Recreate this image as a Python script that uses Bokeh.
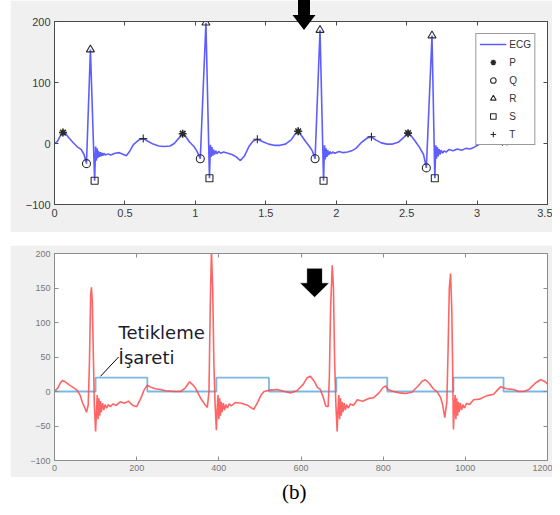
from bokeh.plotting import figure
from bokeh.models import (FixedTicker, LinearAxis, PolyAnnotation, Label, Arrow,
                          Spacer, Div, Legend)
from bokeh.layouts import column, row
from bokeh.embed import file_html
from bokeh.resources import INLINE

# ---------------- data: top panel (ECG with detected P,Q,R,S,T) -------------
ecg_t = [0.00, 0.02, 0.04, 0.06, 0.08, 0.10, 0.13, 0.16, 0.19, 0.21, 0.227, 0.255, 0.285,
         0.292, 0.297, 0.302, 0.307, 0.312, 0.318, 0.324, 0.330, 0.336, 0.343, 0.35, 0.36,
         0.38, 0.40, 0.43, 0.46, 0.49, 0.51, 0.53, 0.56, 0.60, 0.63, 0.66, 0.70, 0.74, 0.78,
         0.82, 0.85, 0.88, 0.91, 0.93, 0.96, 0.99, 1.01, 1.035, 1.075, 1.10,
         1.107, 1.112, 1.118, 1.124, 1.13, 1.137, 1.145, 1.155, 1.165, 1.18, 1.20, 1.23,
         1.26, 1.29, 1.32, 1.35, 1.38, 1.41, 1.44, 1.48, 1.52, 1.56, 1.60, 1.64, 1.68, 1.71,
         1.73, 1.75, 1.78, 1.81, 1.83, 1.85, 1.885, 1.91,
         1.917, 1.922, 1.928, 1.934, 1.94, 1.947, 1.955, 1.965, 1.975, 1.99, 2.02, 2.05,
         2.08, 2.11, 2.14, 2.18, 2.22, 2.25, 2.28, 2.32, 2.36, 2.40, 2.44, 2.48, 2.51, 2.53,
         2.56, 2.59, 2.62, 2.64, 2.68, 2.70,
         2.707, 2.712, 2.718, 2.724, 2.73, 2.737, 2.745, 2.755, 2.765, 2.78, 2.80, 2.83,
         2.86, 2.89, 2.92, 2.95, 2.98, 3.01, 3.04, 3.07, 3.10, 3.14, 3.18, 3.21, 3.24, 3.26]
ecg_v = [0, 3, 12, 18, 16, 10, 2, -5, -10, -18, -33, 154, -61,
         -5, -28, -8, -24, -12, -22, -14, -21, -15, -20, -16, -19,
         -17, -19, -16, -15, -18, -20, -14, -2, 6, 8, 4, -1, -4, -5,
         -4, 0, 8, 16, 12, 2, -5, -12, -25, 198, -57,
         -2, -22, -6, -20, -10, -18, -12, -17, -13, -16, -14, -16,
         -18, -22, -28, -20, -5, 4, 7, 3, -1, -3, -3, -1, 6, 16,
         20, 14, 4, -5, -12, -25, 186, -61,
         -3, -26, -8, -22, -11, -19, -13, -17, -14, -16, -13, -15,
         -14, -12, -8, 2, 9, 11, 6, 1, -1, -1, 2, 10, 17, 13,
         4, -6, -18, -40, 177, -57,
         -3, -25, -6, -21, -9, -18, -11, -16, -12, -14, -10, -12,
         -9, -11, -8, -9, -6, -2, 4, 8, 9, 5, 3, -2, 0, 2]

p_t, p_v = [0.06, 0.91, 1.73, 2.51], [18, 16, 20, 17]
q_t, q_v = [0.227, 1.035, 1.85, 2.64], [-33, -25, -25, -40]
r_t, r_v = [0.255, 1.075, 1.885, 2.68], [154, 198, 186, 177]
s_t, s_v = [0.285, 1.10, 1.91, 2.70], [-61, -57, -61, -57]
t_t, t_v = [0.63, 1.44, 2.25, 3.18], [8, 7, 11, 3]

top_xticks = [0, 0.5, 1, 1.5, 2, 2.5, 3, 3.5]
top_xlabels = ["0", "0.5", "1", "1.5", "2", "2.5", "3", "3.5"]
top_yticks = [-100, 0, 100, 200]

# ---------------- data: bottom panel (ECG samples + trigger signal) ---------
smp = [0, 8, 14, 19, 26, 35, 45, 55, 62, 68, 74, 78, 82, 85, 88, 90, 92, 95, 97, 100,
       102, 104, 106, 108, 110, 112, 114, 117, 120, 123, 127, 131, 136, 142, 150, 160,
       170, 180, 190, 200, 210, 218, 226, 235, 245, 258, 270, 290, 307, 318, 329, 336,
       343, 350, 355, 365, 372, 376, 379, 382, 385, 388, 391, 394,
       396, 398, 400, 402, 404, 406, 408, 411, 414, 417, 421, 425, 430, 440, 455, 470,
       485, 495, 503, 510, 525, 542, 560, 574, 590, 605, 615, 623, 632, 640, 647, 655,
       660, 666, 669, 672, 676, 679, 682, 685, 688,
       690, 692, 694, 696, 698, 700, 702, 705, 708, 711, 715, 720, 728, 737, 750, 765,
       777, 790, 800, 806, 812, 825, 840, 855, 870, 885, 895, 903, 912, 922, 932, 940,
       945, 950, 955, 958, 961, 964, 967, 969, 971,
       973, 975, 977, 979, 981, 983, 985, 988, 991, 994, 998, 1003, 1010, 1020, 1035,
       1053, 1069, 1078, 1086, 1100, 1117, 1130, 1142, 1155, 1170, 1183, 1192, 1200]
ecg2 = [0, 5, 12, 16, 14, 10, 6, 2, -5, -16, -24, -30, -20, 40, 140, 151, 130, 40, -20, -58,
        -30, -5, -40, -10, -35, -14, -30, -17, -27, -19, -24, -19, -22, -18, -20, -15,
        -17, -14, -20, -22, -10, 2, 9, 6, 4, 3, 1, 0, 0, 5, 14, 10,
        5, -3, -9, -18, -23, 0, 120, 205, 150, 40, -20, -56,
        -25, -5, -40, -10, -35, -15, -30, -17, -27, -19, -24, -18, -21, -16, -17, -20,
        -26, -15, -5, 0, 2, 3, 0, -2, 1, 10, 20, 22, 15, 6, 3, -10,
        -21, -22, 20, 120, 183, 150, 40, -20, -58,
        -25, -5, -40, -10, -35, -15, -30, -17, -27, -19, -24, -18, -20, -12, -14, -10,
        -9, -2, 6, 8, 3, 0, -2, -3, -1, 8, 15, 17, 12, 4, -1, -9,
        -20, -38, -15, 60, 150, 171, 120, 40, -55,
        -25, -5, -40, -10, -35, -15, -30, -17, -27, -19, -24, -17, -19, -12, -11,
        -6, -4, 2, 7, 4, 3, 0, 0, 3, 12, 17, 15, 11]

trig_x = [0, 100, 100, 226, 226, 394, 394, 522, 522, 686, 686, 810, 810, 971, 971,
          1093, 1093, 1200]
trig_y = [0, 0, 20, 20, 0, 0, 20, 20, 0, 0, 20, 20, 0, 0, 20, 20, 0, 0]

bot_xticks = [0, 200, 400, 600, 800, 1000, 1200]
bot_yticks = [-100, -50, 0, 50, 100, 150, 200]

annot_lines = ["Tetikleme", "İşareti"]
caption = "(b)"

PANEL = "#f0f0f0"
W = 542
TOP_H = 232


def style_axes(p, frame_col, lab_col, lab_size, xticks, yticks, xlabels=None):
    for ax in p.xaxis + p.yaxis:
        ax.major_tick_in = 4
        ax.major_tick_out = 0
        ax.minor_tick_line_color = None
        ax.axis_line_color = frame_col
        ax.major_tick_line_color = frame_col
        ax.major_label_text_color = lab_col
        ax.major_label_text_font = "Liberation Sans"
        ax.major_label_text_font_size = lab_size
        ax.major_label_standoff = 4
    p.xaxis.ticker = FixedTicker(ticks=xticks)
    p.yaxis.ticker = FixedTicker(ticks=yticks)
    if xlabels:
        p.xaxis.major_label_overrides = {t: l for t, l in zip(xticks, xlabels)}
    for loc, ticks in (("above", xticks), ("right", yticks)):
        ax = LinearAxis(ticker=FixedTicker(ticks=ticks), major_tick_in=4, major_tick_out=0,
                        minor_tick_line_color=None, axis_line_color=frame_col,
                        major_tick_line_color=frame_col, major_label_text_font_size="0px",
                        major_label_standoff=0)
        p.add_layout(ax, loc)
    p.outline_line_color = frame_col
    p.grid.visible = False


# ---------------- top figure ----------------
p1 = figure(width=W, height=TOP_H, x_range=(0, 3.5), y_range=(-100, 200),
            output_backend="svg", toolbar_location=None,
            min_border_left=44, min_border_right=4, min_border_top=21, min_border_bottom=28,
            border_fill_color=PANEL, background_fill_color="white")
style_axes(p1, "#4a4a4a", "#3a3a3a", "11px", top_xticks, top_yticks, top_xlabels)

l_ecg = p1.line(ecg_t, ecg_v, line_color="#4d4dff", line_width=1.6, line_alpha=0.9)
mk = dict(line_color="#2a2a2a", fill_color=None, size=8, line_width=1.1)
r_p = p1.scatter(p_t, p_v, marker="asterisk", **dict(mk, line_width=1.6))
r_q = p1.scatter(q_t, q_v, marker="circle", **mk)
r_r = p1.scatter(r_t, r_v, marker="triangle", **mk)
r_s = p1.scatter(s_t, s_v, marker="square", **dict(mk, size=7))
r_tt = p1.scatter(t_t, t_v, marker="cross", **mk)

leg = Legend(items=[("ECG", [l_ecg]), ("P", [r_p]), ("Q", [r_q]), ("R", [r_r]),
                    ("S", [r_s]), ("T", [r_tt])],
             location="top_right", margin=12, padding=3, spacing=4,
             glyph_width=27, glyph_height=14, label_height=14, label_standoff=3,
             label_text_font="Liberation Sans", label_text_font_size="10px",
             label_text_color="#333333", border_line_color="#333333",
             background_fill_color="white", background_fill_alpha=1)
p1.add_layout(leg, "center")

# ---------------- bottom figure ----------------
p2 = figure(width=W, height=232, x_range=(0, 1200), y_range=(-100, 200),
            output_backend="svg", toolbar_location=None,
            min_border_left=44, min_border_right=5, min_border_top=8, min_border_bottom=17,
            border_fill_color=PANEL, background_fill_color="white")
style_axes(p2, "#8c8c8c", "#777777", "9px", bot_xticks, bot_yticks)

p2.line(trig_x, trig_y, line_color="#7cb7e3", line_width=1.8)
p2.line(smp, ecg2, line_color="#ff4a4a", line_width=1.6, line_alpha=0.85)

bx_c, bx_sw, bx_hw = 633, 18, 34
p2.add_layout(PolyAnnotation(
    xs=[bx_c - bx_sw, bx_c + bx_sw, bx_c + bx_sw, bx_c + bx_hw, bx_c, bx_c - bx_hw, bx_c - bx_sw],
    ys=[178, 178, 157, 157, 137, 157, 157],
    fill_color="black", fill_alpha=1, line_color="black", line_width=1))

p2.add_layout(Arrow(end=None, x_start=112, y_start=22, x_end=156, y_end=50,
                    line_color="black", line_width=1))
for txt, yy in zip(annot_lines, [85, 50]):
    p2.add_layout(Label(x=156, y=yy, text=txt, text_font="DejaVu Sans",
                        text_font_size="18px", text_color="#1a1a2e",
                        text_baseline="alphabetic"))

# gap between the panels; it also carries the black marker arrow of the top panel,
# which sits over the top panel's border (above its plot frame)
arrow_svg = ('<svg width="27" height="31" xmlns="http://www.w3.org/2000/svg" '
             'style="display:block">'
             '<polygon points="8,0 20,0 20,15 25.5,15 14,30 2.5,15 8,15" fill="black"/></svg>')
gap = Div(text=f'<div style="position:absolute;left:280px;top:-{TOP_H}px;z-index:50;'
               f'line-height:0">{arrow_svg}</div>',
          width=W, height=13, margin=0, styles={"overflow": "visible", "z-index": "50"})

cap = Div(text=f'<div style="font-family:\'Liberation Serif\',serif;font-size:21px;'
               f'margin-left:272px;line-height:30px;color:#000">{caption}</div>',
          width=W, height=30, margin=0)

layout = row(Spacer(width=10, height=10),
             column(p1, gap, p2, cap, spacing=0), spacing=0)
open("out.html", "w").write(file_html(layout, INLINE))
